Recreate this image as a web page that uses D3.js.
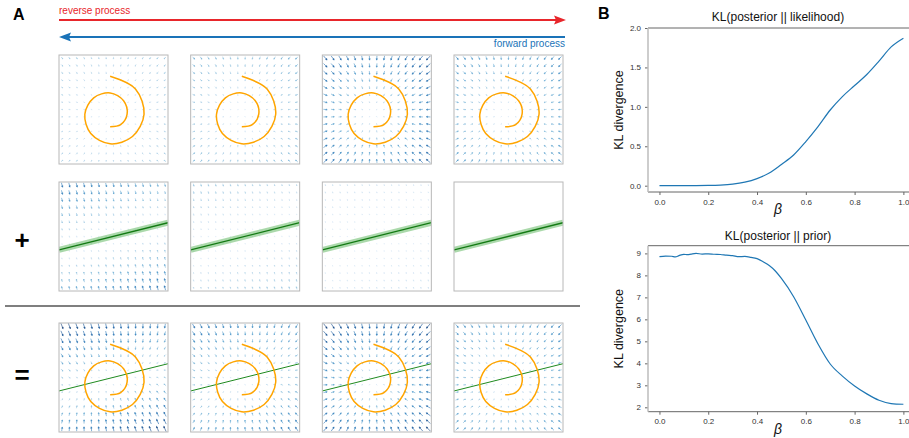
<!DOCTYPE html>
<html lang="en">
<head>
<meta charset="UTF-8">
<title>Posterior sampling</title>
<script src="https://cdn.jsdelivr.net/npm/d3@7"></script>
<style>
  body { margin: 0; background: #fff; }
  text { font-family: "Liberation Sans", Arial, Helvetica, sans-serif; }
</style>
</head>
<body>
<svg width="909" height="438"></svg>
<script>
// ---- panel A data ----
// spiral (swiss roll) read every 1/8 turn, outer end -> inner end
var spiralX = [0, 9.4, 12.6, 8.3, 0, -7.2, -9.4, -6.1, 0, 5.0, 6.3, 3.9, 0];
var spiralY = [14.1, 9.4, 0, -8.3, -11.0, -7.2, 0, 6.1, 7.9, 5.0, 0, -3.9, -4.7];
// likelihood constraint line y = slope*x + intercept
var lineSlope = 0.25;
var lineIntercept = 1.5;
// strength of the prior / likelihood fields in each of the 4 steps
var priorWeight = [0.35, 0.5, 1.0, 0.7];
var likWeight = [1.0, 0.45, 0.2, 0];

// ---- panel B data ----
var betaLik = [0, 0.1, 0.2, 0.25, 0.3, 0.35, 0.4, 0.45, 0.5, 0.55, 0.6, 0.65, 0.7, 0.75, 0.8, 0.85, 0.9, 0.95, 1.0];
var klLik = [0, 0, 0.003, 0.008, 0.02, 0.045, 0.09, 0.16, 0.27, 0.39, 0.56, 0.75, 0.96, 1.13, 1.27, 1.41, 1.58, 1.76, 1.87];
var betaPrior = [0, 0.025, 0.05, 0.065, 0.08, 0.1, 0.115, 0.13, 0.15, 0.175, 0.2, 0.225, 0.25, 0.275, 0.3, 0.325, 0.35, 0.375, 0.4, 0.425, 0.45, 0.475, 0.5, 0.55, 0.6, 0.65, 0.7, 0.75, 0.8, 0.85, 0.9, 0.95, 1.0];
var klPrior = [8.85, 8.88, 8.87, 8.84, 8.9, 8.96, 8.94, 8.97, 9.0, 8.97, 8.98, 8.96, 8.95, 8.92, 8.9, 8.85, 8.86, 8.82, 8.76, 8.62, 8.45, 8.2, 7.86, 7.03, 5.97, 4.88, 3.97, 3.42, 2.97, 2.61, 2.32, 2.17, 2.14];
var betaTicks = [0, 0.2, 0.4, 0.6, 0.8, 1.0];
var likTicks = [0, 0.5, 1.0, 1.5, 2.0];
var priorTicks = [2, 3, 4, 5, 6, 7, 8, 9];

var svg = d3.select("svg");
svg.append("rect").attr("width", 909).attr("height", 438).attr("fill", "#fff");

// ================= Panel A =================
svg.append("text").attr("x", 13).attr("y", 20).text("A")
    .attr("font-size", 16).attr("font-weight", "bold");

// process arrows
var red = "#e8262b", blue = "#1a73b8";
svg.append("line").attr("x1", 59).attr("y1", 20).attr("x2", 556).attr("y2", 20)
    .attr("stroke", red).attr("stroke-width", 2);
svg.append("path").attr("d", "M566,20 L554,15.5 L556,20 L554,24.5 Z").attr("fill", red);
svg.append("text").attr("x", 59).attr("y", 14).text("reverse process")
    .attr("font-size", 10).attr("fill", red);

svg.append("line").attr("x1", 67).attr("y1", 37).attr("x2", 565).attr("y2", 37)
    .attr("stroke", blue).attr("stroke-width", 2);
svg.append("path").attr("d", "M59,37 L71,32.5 L69,37 L71,41.5 Z").attr("fill", blue);
svg.append("text").attr("x", 565).attr("y", 47).text("forward process")
    .attr("font-size", 10).attr("fill", blue).attr("text-anchor", "end");

var boxSize = 109;
var colScale = d3.scaleLinear().domain([0, 3]).range([59, 454]);
var rowTop = [55, 182, 323];

var xs = d3.scaleLinear().domain([-19, 21.5]).range([0, boxSize]);
var ys = d3.scaleLinear().domain([-18.5, 22]).range([boxSize, 0]);
var grid = d3.scalePoint().domain(d3.range(15)).range([3, 106]);

var spiralData = spiralX.map(function(x, i) { return [x, spiralY[i]]; });
var spiralLine = d3.line()
    .x(function(d) { return xs(d[0]); })
    .y(function(d) { return ys(d[1]); })
    .curve(d3.curveCatmullRom.alpha(0.5));

var norm = Math.sqrt(1 + lineSlope * lineSlope);

function arrowPath(cx, cy, ux, uy, L) {
    var tx = cx + ux * L / 2, ty = cy + uy * L / 2;
    var sx = cx - ux * L / 2, sy = cy - uy * L / 2;
    var h = Math.min(1.5, L * 0.35), w = h * 0.45;
    var bx = tx - ux * h, by = ty - uy * h;
    return "M" + sx + "," + sy + "L" + bx + "," + by +
        "M" + tx + "," + ty + "L" + (bx - uy * w) + "," + (by + ux * w) +
        "L" + (bx + uy * w) + "," + (by - ux * w) + "Z";
}

var defs = svg.append("defs");
defs.append("clipPath").attr("id", "boxclip")
    .append("rect").attr("width", boxSize).attr("height", boxSize);

var arrowColor = d3.scaleSequential(d3.interpolateBlues).domain([-5, 33]).clamp(true);

rowTop.forEach(function(top, r) {
    d3.range(4).forEach(function(c) {
        var g = svg.append("g").attr("transform", "translate(" + colScale(c) + "," + top + ")");
        var inner = g.append("g").attr("clip-path", "url(#boxclip)");
        var wP = r === 1 ? 0 : priorWeight[c];
        var wL = r === 0 ? 0 : likWeight[c];

        // vector field
        var arrows = [];
        grid.domain().forEach(function(i) {
            grid.domain().forEach(function(j) {
                var px = grid(i), py = grid(j);
                var x = xs.invert(px), y = ys.invert(py);
                var vx = -x * wP, vy = -y * wP;
                var d = (y - lineSlope * x - lineIntercept) / norm;
                vx += d * lineSlope / norm * wL;
                vy += -d / norm * wL;
                var m = Math.sqrt(vx * vx + vy * vy);
                if (m < 0.3) return;
                arrows.push({px: px, py: py, dx: vx / m, dy: -vy / m, m: m});
            });
        });
        inner.selectAll("path.arrow")
            .data(arrows)
            .join("path")
            .attr("class", "arrow")
            .attr("d", function(d) { return arrowPath(d.px, d.py, d.dx, d.dy, Math.min(6, 1 + d.m * 0.16)); })
            .attr("stroke", function(d) { return arrowColor(d.m); })
            .attr("fill", function(d) { return arrowColor(d.m + 6); })
            .attr("stroke-width", 0.6)
            .attr("opacity", 0.95);

        // likelihood line
        if (r > 0) {
            var x0 = xs.domain()[0], x1 = xs.domain()[1];
            var seg = inner.append("g");
            if (r === 1) {
                seg.append("line")
                    .attr("x1", xs(x0)).attr("y1", ys(lineSlope * x0 + lineIntercept))
                    .attr("x2", xs(x1)).attr("y2", ys(lineSlope * x1 + lineIntercept))
                    .attr("stroke", "#2ca02c").attr("stroke-opacity", 0.4).attr("stroke-width", 6);
            }
            seg.append("line")
                .attr("x1", xs(x0)).attr("y1", ys(lineSlope * x0 + lineIntercept))
                .attr("x2", xs(x1)).attr("y2", ys(lineSlope * x1 + lineIntercept))
                .attr("stroke", r === 1 ? "#137a13" : "#1f8a1f").attr("stroke-width", r === 1 ? 1.3 : 1);
        }
        // spiral
        if (r !== 1) {
            inner.append("path").attr("d", spiralLine(spiralData))
                .attr("fill", "none").attr("stroke", "#ffa500").attr("stroke-width", 1.5);
        }
        g.append("rect").attr("width", boxSize).attr("height", boxSize)
            .attr("fill", "none").attr("stroke", "#b8b8b8").attr("stroke-width", 1);
    });
});

svg.append("text").attr("x", 22).attr("y", 249).text("+")
    .attr("font-size", 26).attr("font-weight", "bold").attr("text-anchor", "middle");
svg.append("text").attr("x", 22).attr("y", 384).text("=")
    .attr("font-size", 26).attr("font-weight", "bold").attr("text-anchor", "middle");
svg.append("line").attr("x1", 5).attr("x2", 580).attr("y1", 306).attr("y2", 306)
    .attr("stroke", "#555").attr("stroke-width", 1.3);

// ================= Panel B =================
svg.append("text").attr("x", 598).attr("y", 19).text("B")
    .attr("font-size", 16).attr("font-weight", "bold");

var xB = d3.scaleLinear().domain([-0.047, 1.023]).range([648, 909]);

function klPlot(yScale, xs_, ys_, ticks, fmt, title, titleY) {
    var top = yScale.range()[1], bottom = yScale.range()[0];
    var g = svg.append("g");

    var xAxis = g.append("g").attr("transform", "translate(0," + bottom + ")")
        .call(d3.axisBottom(xB).tickValues(betaTicks).tickFormat(d3.format(".1f")).tickSize(3).tickPadding(4));
    var yAxis = g.append("g").attr("transform", "translate(648,0)")
        .call(d3.axisLeft(yScale).tickValues(ticks).tickFormat(fmt).tickSize(3).tickPadding(4));
    [xAxis, yAxis].forEach(function(a) {
        a.select(".domain").remove();
        a.selectAll("line").attr("stroke", "#666");
        a.selectAll("text").attr("font-size", 8).attr("fill", "#333")
            .attr("font-family", "'Liberation Sans', Arial, sans-serif");
    });

    g.append("line").attr("x1", 648).attr("x2", 909).attr("y1", top).attr("y2", top)
        .attr("stroke", "#666").attr("stroke-width", 1);
    g.append("line").attr("x1", 648).attr("x2", 909).attr("y1", bottom).attr("y2", bottom)
        .attr("stroke", "#666").attr("stroke-width", 1);
    g.append("line").attr("x1", 648).attr("x2", 648).attr("y1", top).attr("y2", bottom)
        .attr("stroke", "#bdbdbd").attr("stroke-width", 1.5);

    var line = d3.line()
        .x(function(d, i) { return xB(xs_[i]); })
        .y(function(d) { return yScale(d); })
        .curve(d3.curveMonotoneX);
    g.append("path").attr("d", line(ys_))
        .attr("fill", "none").attr("stroke", "#1f77b4").attr("stroke-width", 1.2);

    g.append("text").attr("x", 778).attr("y", titleY).text(title)
        .attr("font-size", 12).attr("text-anchor", "middle").attr("fill", "#111");
    g.append("text").attr("transform", "translate(623," + (top + bottom) / 2 + ") rotate(-90)")
        .text("KL divergence").attr("font-size", 12.5).attr("text-anchor", "middle").attr("fill", "#111");
    g.append("text").attr("x", 778).attr("y", bottom + 22).text("β")
        .attr("font-size", 14).attr("font-style", "italic").attr("text-anchor", "middle").attr("fill", "#111");
}

var yTop = d3.scaleLinear().domain([-0.08, 2.0]).range([192, 28]);
var yBot = d3.scaleLinear().domain([1.8, 9.35]).range([411.7, 245.7]);

klPlot(yTop, betaLik, klLik, likTicks, d3.format(".1f"), "KL(posterior || likelihood)", 21);
klPlot(yBot, betaPrior, klPrior, priorTicks, d3.format("d"), "KL(posterior || prior)", 240);
</script>
</body>
</html>
